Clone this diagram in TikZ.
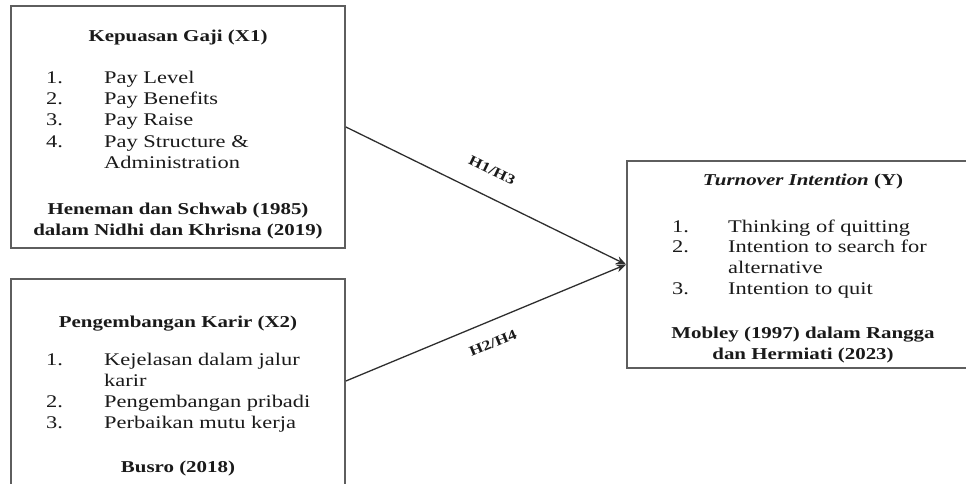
\documentclass[tikz,border=0pt]{standalone}
\usepackage{fontspec}
\setmainfont{Liberation Serif}[FakeStretch=1.26]
\usetikzlibrary{arrows.meta}
\definecolor{txtc}{HTML}{1A1A1A}
\definecolor{boxc}{HTML}{5E5E5E}
\definecolor{arrc}{HTML}{2E2E2E}
\begin{document}
\begin{tikzpicture}[x=1pt,y=-1pt,
  box/.style={draw=boxc, line width=1.8pt, fill=white, rectangle, inner sep=0},
  itm/.style={font=\fontsize{17.8}{21}\selectfont, inner sep=0, anchor=base west, text=txtc},
  ttl/.style={font=\fontsize{16.6}{20}\selectfont\bfseries, inner sep=0, anchor=base, text=txtc},
  lbl/.style={font=\fontsize{14}{15}\selectfont\bfseries, inner sep=0, text=txtc},
  arr/.style={draw=arrc, line width=1.3pt, -{Stealth[length=10pt,width=8pt]}}]
\useasboundingbox (0,0) rectangle (966,484);
\clip (0,0) rectangle (966,484);
% boxes
\node[box, minimum width=334pt, minimum height=242pt] (x1) at (178,127) {};
\node[box, minimum width=334pt, minimum height=240pt] (x2) at (178,399) {};
\node[box, minimum width=352pt, minimum height=207pt] (y) at (803,264.5) {};
\coordinate (s2) at (x2.north east |- 0,381);
% box 1
\node[ttl] (t1) at (178,42) {Kepuasan Gaji (X1)};
\node[itm] (n11) at (46,84) {1.};
\node[itm] (i11) at (104,84) {Pay Level};
\node[itm] (n12) at (46,105) {2.};
\node[itm] (i12) at (104,105) {Pay Benefits};
\node[itm] (n13) at (46,126) {3.};
\node[itm] (i13) at (104,126) {Pay Raise};
\node[itm] (n14) at (46,147) {4.};
\node[itm] (i14) at (104,147) {Pay Structure \&};
\node[itm] (i15) at (104,168) {Administration};
\node[ttl] (c11) at (178,214) {Heneman dan Schwab (1985)};
\node[ttl] (c12) at (178,235) {dalam Nidhi dan Khrisna (2019)};
% box 2
\node[ttl] (t2) at (178,327) {Pengembangan Karir (X2)};
\node[itm] (n21) at (46,365) {1.};
\node[itm] (i21) at (104,365) {Kejelasan dalam jalur};
\node[itm] (i22) at (104,386) {karir};
\node[itm] (n22) at (46,407) {2.};
\node[itm] (i23) at (104,407) {Pengembangan pribadi};
\node[itm] (n23) at (46,428) {3.};
\node[itm] (i24) at (104,428) {Perbaikan mutu kerja};
\node[ttl] (c21) at (178,472) {Busro (2018)};
% box 3
\node[ttl] (t3) at (803,185) {\itshape Turnover Intention\/ \upshape(Y)};
\node[itm] (n31) at (672,232) {1.};
\node[itm] (i31) at (728,232) {Thinking of quitting};
\node[itm] (n32) at (672,252) {2.};
\node[itm] (i32) at (728,252) {Intention to search for};
\node[itm] (i33) at (728,273) {alternative};
\node[itm] (n33) at (672,294) {3.};
\node[itm] (i34) at (728,294) {Intention to quit};
\node[ttl] (c31) at (803,338) {Mobley (1997) dalam Rangga};
\node[ttl] (c32) at (803,359) {dan Hermiati (2023)};
% arrows
\draw[arr] (x1.east) -- (y.west);
\draw[arr] (s2) -- (y.west);
\node[lbl, rotate=-26] (h13) at (492,170) {H1/H3};
\node[lbl, rotate=22.4] (h24) at (493,343) {H2/H4};
\end{tikzpicture}
\end{document}
